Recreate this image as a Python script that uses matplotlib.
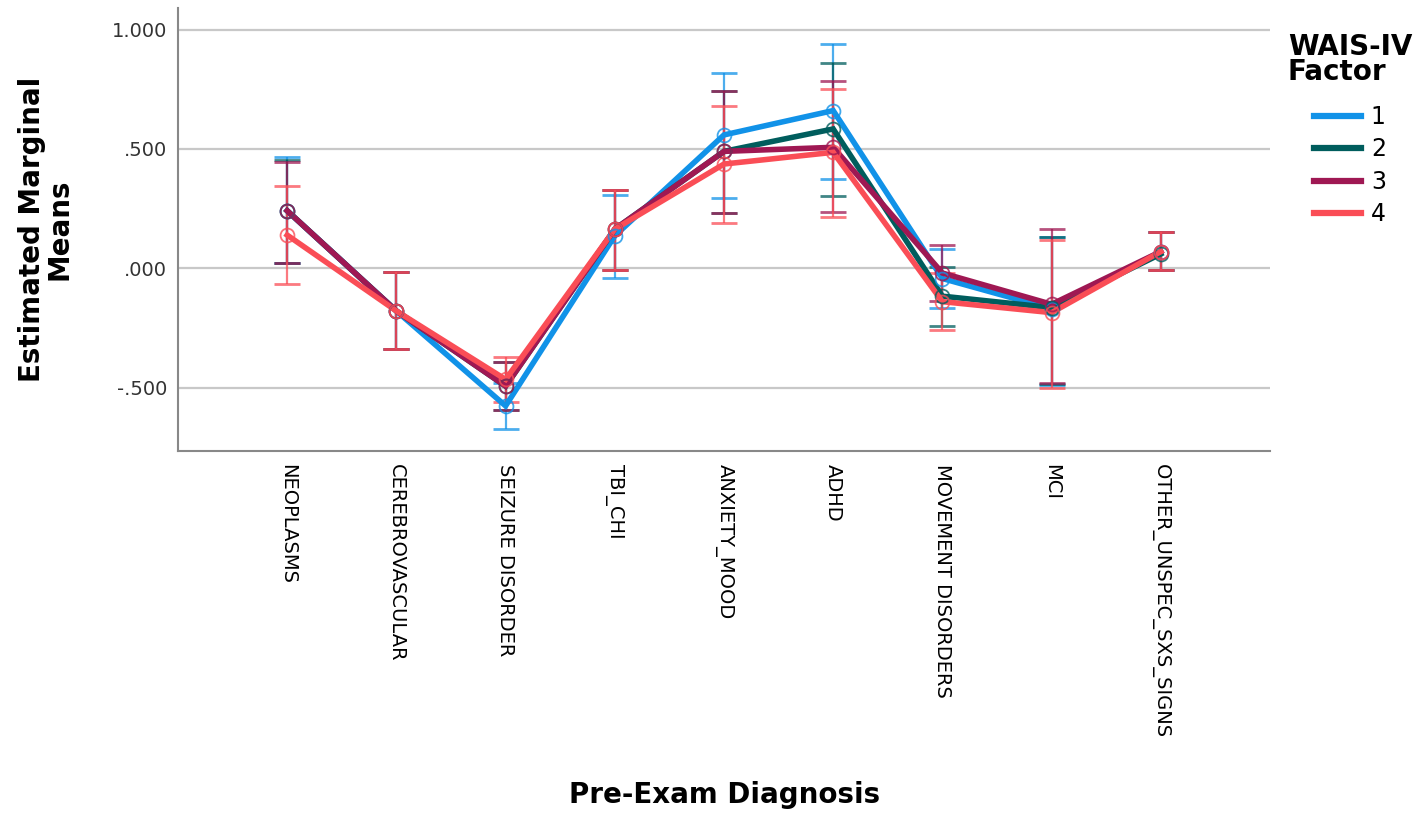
import matplotlib
matplotlib.use("Agg")
import matplotlib.pyplot as plt
from matplotlib.lines import Line2D

categories = ["NEOPLASMS", "CEREBROVASCULAR", "SEIZURE DISORDER", "TBI_CHI",
              "ANXIETY_MOOD", "ADHD", "MOVEMENT DISORDERS", "MCI",
              "OTHER_UNSPEC_SXS_SIGNS"]
series_names = ["1", "2", "3", "4"]

mean_1 = [0.241, -0.179, -0.577, 0.136, 0.559, 0.661, -0.043, -0.170, 0.070]
mean_2 = [0.241, -0.179, -0.494, 0.164, 0.490, 0.584, -0.117, -0.165, 0.060]
mean_3 = [0.241, -0.179, -0.494, 0.164, 0.490, 0.507, -0.020, -0.151, 0.070]
mean_4 = [0.139, -0.179, -0.466, 0.164, 0.437, 0.486, -0.140, -0.186, 0.070]

lower_1 = [0.021, -0.337, -0.675, -0.039, 0.293, 0.374, -0.165, -0.490, -0.007]
lower_2 = [0.021, -0.337, -0.594, -0.007, 0.231, 0.301, -0.240, -0.485, -0.007]
lower_3 = [0.021, -0.337, -0.594, -0.007, 0.231, 0.234, -0.137, -0.480, -0.007]
lower_4 = [-0.067, -0.337, -0.559, -0.007, 0.188, 0.213, -0.259, -0.500, -0.007]

upper_1 = [0.465, -0.014, -0.479, 0.307, 0.818, 0.941, 0.080, 0.130, 0.151]
upper_2 = [0.455, -0.014, -0.394, 0.328, 0.741, 0.860, 0.007, 0.129, 0.151]
upper_3 = [0.447, -0.014, -0.394, 0.328, 0.741, 0.787, 0.098, 0.164, 0.151]
upper_4 = [0.346, -0.014, -0.373, 0.328, 0.682, 0.752, -0.021, 0.120, 0.151]

yticks = [-0.5, 0.0, 0.5, 1.0]
ytick_labels = ["-.500", ".000", ".500", "1.000"]

colors = ["#1192e8", "#005d5d", "#9f1853", "#fa4d56"]

means = [mean_1, mean_2, mean_3, mean_4]
lowers = [lower_1, lower_2, lower_3, lower_4]
uppers = [upper_1, upper_2, upper_3, upper_4]

plt.rcParams['font.family'] = ['DejaVu Sans']

fig = plt.figure(figsize=(14.21, 8.13), dpi=100)
ax = fig.add_axes([178 / 1421, 1 - 451 / 813, 1092 / 1421, 443 / 813])

x = list(range(len(categories)))

for m, lo, up, c in zip(means, lowers, uppers, colors):
    yerr = [[mi - li for mi, li in zip(m, lo)], [ui - mi for mi, ui in zip(m, up)]]
    ax.errorbar(x, m, yerr=yerr, fmt='none', ecolor=c, elinewidth=1.6,
                capsize=9.5, capthick=2.0, alpha=0.75, zorder=3)

for m, c in zip(means, colors):
    ax.plot(x, m, color=c, lw=4.0, solid_joinstyle='miter', zorder=4)
    ax.plot(x, m, linestyle='none', marker='o', markersize=10,
            markerfacecolor='none', markeredgecolor=c, markeredgewidth=1.3,
            alpha=0.8, zorder=5)

ax.set_xlim(-1, 9)
ax.set_ylim(-0.766, 1.091)
ax.set_yticks(yticks)
ax.set_yticklabels(ytick_labels, fontsize=14, color='#333333')
ax.set_xticks(x)
ax.set_xticklabels(categories, rotation=270, fontsize=14, va='top', ha='center')
ax.tick_params(axis='y', length=0, pad=8)
ax.tick_params(axis='x', length=0, pad=9)

ax.grid(axis='y', color='#c8c8c8', lw=1.6)
ax.set_axisbelow(True)
for s in ['top', 'right']:
    ax.spines[s].set_visible(False)
for s in ['left', 'bottom']:
    ax.spines[s].set_color('#888888')
    ax.spines[s].set_linewidth(1.5)

ax.set_ylabel("Estimated Marginal\nMeans", fontsize=20, fontweight='bold',
              linespacing=1.0)
ax.yaxis.set_label_coords((74 - 178) / 1092, 0.5)
fig.text(725 / 1421, 1 - 795 / 813, "Pre-Exam Diagnosis", fontsize=20,
         fontweight='bold', ha='center', va='center')

handles = [Line2D([0], [0], color=c, lw=4.5) for c in colors]
leg = fig.legend(handles, series_names, title="WAIS-IV\nFactor",
                 loc='upper center', bbox_to_anchor=(1350 / 1421, 1 - 21 / 813),
                 frameon=False, fontsize=17, handlelength=2.0,
                 labelspacing=0.36, handletextpad=0.4, borderpad=0.0)
leg.get_title().set_fontsize(20)
leg.get_title().set_fontweight('bold')
leg.get_title().set_linespacing(0.85)
leg._legend_box.align = "center"
leg._legend_box.sep = 14

fig.savefig("out.png", dpi=100)
